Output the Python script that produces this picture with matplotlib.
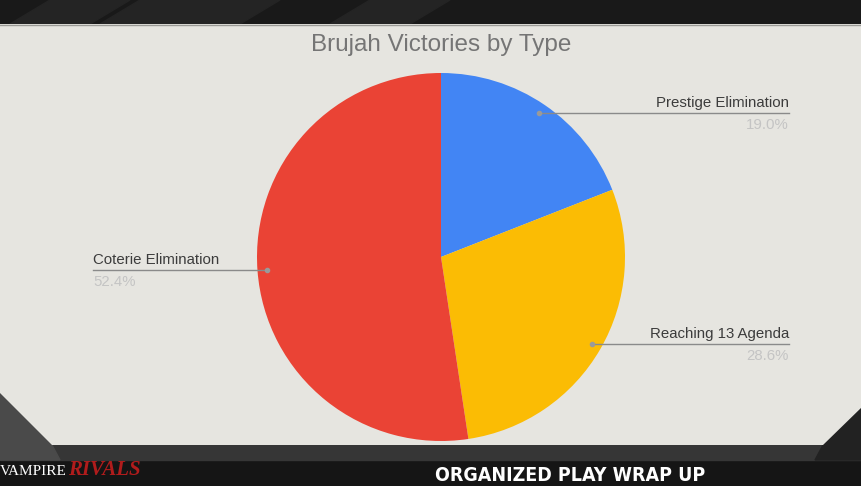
import numpy as np
import matplotlib
matplotlib.use("Agg")
import matplotlib.pyplot as plt
from matplotlib.patches import Polygon, Rectangle

# --- chart data
labels = ["Prestige Elimination", "Reaching 13 Agenda", "Coterie Elimination"]
wins = [4, 6, 11]
colors = ["#4285F4", "#FBBC04", "#EA4335"]
title = "Brujah Victories by Type"

W, H = 862, 486
fig = plt.figure(figsize=(W / 100, H / 100), dpi=100)
fig.patch.set_facecolor("#1a1a1a")
ax = fig.add_axes([0, 0, 1, 1])


def Y(py):
    return H - py


# --- video frame around the chart
ax.add_patch(Rectangle((0, Y(24)), W, 24, color="#191919", zorder=0))
for x0 in (10, 100, 160, 330):
    ax.add_patch(Polygon([(x0, Y(24)), (x0 + 40, Y(0)), (x0 + 120, Y(0)), (x0 + 80, Y(24))],
                         color="#242424", zorder=0))
ax.add_patch(Rectangle((0, 0), W, Y(445), color="#151515", zorder=0))
ax.add_patch(Rectangle((0, Y(460)), W, 15, color="#363636", zorder=0))
ax.add_patch(Polygon([(0, Y(392)), (0, Y(460)), (60, Y(460)), (52, Y(445))],
                     color="#4a4a4a", zorder=0))
ax.add_patch(Polygon([(W, Y(405)), (W, Y(460)), (815, Y(460)), (823, Y(445))],
                     color="#222222", zorder=0))
panel = [(0, Y(24)), (W, Y(24)), (W, Y(407)), (823, Y(445)), (52, Y(445)), (0, Y(393))]
ax.add_patch(Polygon(panel, closed=True, facecolor="#e6e5e0", edgecolor="none", zorder=1))
ax.plot([0, W], [Y(24.5), Y(24.5)], color="#9a9a96", lw=1, zorder=1)

ax.text(0, Y(465), "VAMPIRE", color="white", fontsize=11, family="Liberation Serif",
        ha="left", va="top", zorder=2)
ax.text(68, Y(460), "RIVALS", color="#b01c1c", fontsize=15, family="Liberation Serif",
        style="italic", weight="bold", ha="left", va="top", zorder=2)
ax.text(570, Y(481), "ORGANIZED PLAY WRAP UP", color="white", fontsize=14,
        family="DejaVu Sans", weight="bold", stretch="condensed",
        ha="center", va="baseline", zorder=2)

# --- pie
cx, cy, r = 441, Y(257), 184
wedges, _ = ax.pie(wins, colors=colors, startangle=90, counterclock=False,
                   center=(cx, cy), radius=r, frame=True,
                   wedgeprops=dict(edgecolor="none", linewidth=0, zorder=3))
ax.set_xlim(0, W)
ax.set_ylim(0, H)
ax.set_aspect("equal")
ax.axis("off")

ax.text(cx, Y(45), title, color="#757575", fontsize=17.5, family="Liberation Sans",
        ha="center", va="center", zorder=4)

# --- leader lines with labels
total = sum(wins)
for w, lab, v in zip(wedges, labels, wins):
    ang = np.deg2rad((w.theta1 + w.theta2) / 2)
    dx, dy = cx + 0.95 * r * np.cos(ang), cy + 0.95 * r * np.sin(ang)
    right = np.cos(ang) > 0
    ex = 789 if right else 93
    ax.plot([dx, ex], [dy, dy], color="#8a8a8a", lw=1, zorder=5)
    ax.plot(dx, dy, "o", ms=3, color="#9a9a9a", zorder=5)
    ha = "right" if right else "left"
    ax.text(ex, dy + 10, lab, color="#3c3c3c", fontsize=10.8, family="Liberation Sans",
            ha=ha, va="center", zorder=5)
    ax.text(ex, dy - 12, f"{100 * v / total:.1f}%", color="#c4c4c4", fontsize=10.8,
            family="Liberation Sans", ha=ha, va="center", zorder=5)

fig.savefig("out.png", dpi=100, facecolor=fig.get_facecolor())
